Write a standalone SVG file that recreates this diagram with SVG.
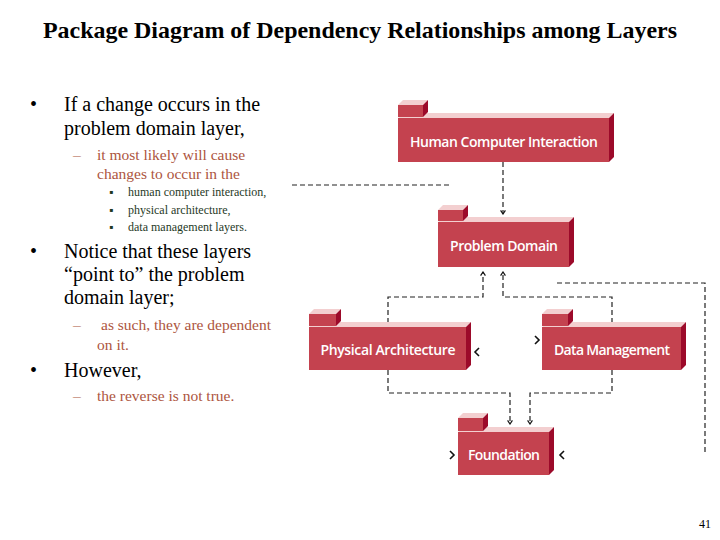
<svg xmlns="http://www.w3.org/2000/svg" width="720" height="540" viewBox="0 0 720 540">
<style>
.ser{font-family:"Liberation Serif","Times New Roman",serif}
.t1{font-size:20px;fill:#000}
.t2{font-size:15.5px;fill:#ad5540}
.t3{font-size:12px;fill:#1f3a1f}
.lbl{font-family:"Open Sans","Liberation Sans",sans-serif;font-weight:600;font-size:14px;fill:#fff;text-anchor:middle}
.front{fill:#c4424f}
.top{fill:#f3cfd0}
.side{fill:#9c0a2a}
.con{fill:none;stroke:#222;stroke-width:1.2;stroke-dasharray:5,3}
.chev{fill:none;stroke:#111;stroke-width:1.6}
</style>
<defs>
<marker id="ah" viewBox="0 0 10 10" refX="9" refY="5" markerWidth="6" markerHeight="6" orient="auto" markerUnits="userSpaceOnUse">
<path d="M3,1 L9,5 L3,9" fill="none" stroke="#111" stroke-width="2"/>
</marker>
</defs>
<rect width="720" height="540" fill="#fff"/>
<text x="360" y="38" class="ser" font-size="23.5" font-weight="bold" text-anchor="middle" textLength="634" lengthAdjust="spacingAndGlyphs">Package Diagram of Dependency Relationships among Layers</text>

<g id="text-left" class="ser">
<text x="30" y="111" class="t1">•</text>
<text x="64" y="111" class="t1">If a change occurs in the</text>
<text x="64" y="135" class="t1">problem domain layer,</text>
<text x="73" y="160" class="t2">–</text>
<text x="97" y="160" class="t2">it most likely will cause</text>
<text x="97" y="179" class="t2">changes to occur in the</text>
<text x="109" y="196" class="t3">▪</text>
<text x="128" y="196" class="t3">human computer interaction,</text>
<text x="109" y="214" class="t3">▪</text>
<text x="128" y="214" class="t3">physical architecture,</text>
<text x="109" y="231" class="t3">▪</text>
<text x="128" y="231" class="t3">data management layers.</text>
<text x="30" y="258" class="t1">•</text>
<text x="64" y="258" class="t1">Notice that these layers</text>
<text x="64" y="281" class="t1">“point to” the problem</text>
<text x="64" y="304" class="t1">domain layer;</text>
<text x="73" y="330" class="t2">–</text>
<text x="101" y="330" class="t2">as such, they are dependent</text>
<text x="97" y="350" class="t2">on it.</text>
<text x="30" y="377" class="t1">•</text>
<text x="64" y="377" class="t1">However,</text>
<text x="73" y="401" class="t2">–</text>
<text x="97" y="401" class="t2">the reverse is not true.</text>
<text x="711" y="528" font-size="12" text-anchor="end">41</text>
</g>

<g id="connectors">
<path class="con" d="M503,162 V214" marker-end="url(#ah)"/>
<path class="con" d="M388,323 V297 H483 V272" marker-end="url(#ah)"/>
<path class="con" d="M612,323 V297 H503 V272" marker-end="url(#ah)"/>
<path class="con" d="M388,370 V393 H510 V424" marker-end="url(#ah)"/>
<path class="con" d="M612,370 V393 H530 V424" marker-end="url(#ah)"/>
<path class="con" d="M292,185 H450"/>
<path class="con" d="M557,283 H705 V453"/>
<path class="chev" d="M479,348 L475,352 L479,356"/>
<path class="chev" d="M535,336 L539,340 L535,344"/>
<path class="chev" d="M450,451 L454,455 L450,459"/>
<path class="chev" d="M564,451 L560,455 L564,459"/>
</g>

<g id="hci">
<polygon class="top" points="398,118 403,113 614,113 609,118"/>
<rect class="front" x="398" y="118" width="211" height="44"/>
<polygon class="side" points="609,118 614,113 614,157 609,162"/>
<polygon class="top" points="398,105 403,100 428,100 423,105"/>
<rect class="front" x="398" y="105" width="25" height="12"/>
<polygon class="side" points="423,105 428,100 428,112 423,117"/>
<text class="lbl" x="504" y="147" textLength="188">Human Computer Interaction</text>
</g>

<g id="problem-domain">
<polygon class="top" points="438,222 443,217 574,217 569,222"/>
<rect class="front" x="438" y="222" width="131" height="45"/>
<polygon class="side" points="569,222 574,217 574,262 569,267"/>
<polygon class="top" points="438,210 443,205 468,205 463,210"/>
<rect class="front" x="438" y="210" width="25" height="11"/>
<polygon class="side" points="463,210 468,205 468,216 463,221"/>
<text class="lbl" x="504" y="251" textLength="108">Problem Domain</text>
</g>

<g id="physical-architecture">
<polygon class="top" points="309,327 314,322 471,322 466,327"/>
<rect class="front" x="309" y="327" width="157" height="43"/>
<polygon class="side" points="466,327 471,322 471,365 466,370"/>
<polygon class="top" points="309,314 314,309 341,309 336,314"/>
<rect class="front" x="309" y="314" width="27" height="12"/>
<polygon class="side" points="336,314 341,309 341,321 336,326"/>
<text class="lbl" x="388" y="355" textLength="135">Physical Architecture</text>
</g>

<g id="data-management">
<polygon class="top" points="542,327 547,322 686,322 681,327"/>
<rect class="front" x="542" y="327" width="139" height="43"/>
<polygon class="side" points="681,327 686,322 686,365 681,370"/>
<polygon class="top" points="542,314 547,309 573,309 568,314"/>
<rect class="front" x="542" y="314" width="26" height="12"/>
<polygon class="side" points="568,314 573,309 573,321 568,326"/>
<text class="lbl" x="612" y="355" textLength="116">Data Management</text>
</g>

<g id="foundation">
<polygon class="top" points="458,432 463,427 554,427 549,432"/>
<rect class="front" x="458" y="432" width="91" height="43"/>
<polygon class="side" points="549,432 554,427 554,470 549,475"/>
<polygon class="top" points="458,418 463,413 488,413 483,418"/>
<rect class="front" x="458" y="418" width="25" height="13"/>
<polygon class="side" points="483,418 488,413 488,426 483,431"/>
<text class="lbl" x="504" y="460" textLength="72">Foundation</text>
</g>
</svg>
